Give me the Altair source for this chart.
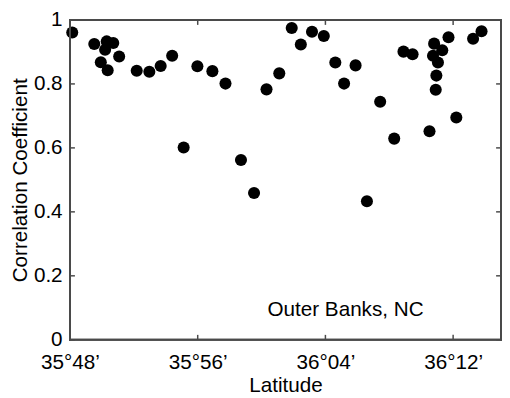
import altair as alt
import pandas as pd

# Latitude, in minutes past 35°48'
lat_min = [0.14, 1.52, 2.30, 2.71, 2.20, 1.93, 2.36, 3.08, 4.18, 4.97, 5.68, 6.40,
           7.98, 7.12, 8.92, 9.74, 10.71, 11.53, 12.31, 13.11, 13.89, 14.46, 15.16,
           15.90, 16.62, 17.17, 17.89, 18.60, 19.43, 20.31, 20.89, 21.46, 22.52,
           22.81, 23.32, 22.74, 23.05, 22.95, 22.91, 23.71, 24.20, 25.25, 25.78]
corr = [0.961, 0.925, 0.933, 0.928, 0.907, 0.868, 0.843, 0.886, 0.841, 0.838, 0.856, 0.888,
        0.855, 0.601, 0.840, 0.801, 0.562, 0.459, 0.783, 0.833, 0.975, 0.923, 0.963,
        0.950, 0.867, 0.801, 0.858, 0.433, 0.744, 0.629, 0.901, 0.893, 0.652,
        0.926, 0.905, 0.888, 0.867, 0.826, 0.782, 0.946, 0.695, 0.941, 0.965]

x_ticks = [0, 8, 16, 24]
x_tick_labels = ["35°48’", "35°56’", "36°04’", "36°12’"]
y_ticks = [0, 0.2, 0.4, 0.6, 0.8, 1.0]

annot_text = ["Outer Banks, NC"]
annot_x = [17.26]
annot_y = [0.093]

df = pd.DataFrame({"lat": lat_min, "r": corr})
ann = pd.DataFrame({"x": annot_x, "y": annot_y, "t": annot_text})
xt = pd.DataFrame({"v": x_ticks})
yt = pd.DataFrame({"v": y_ticks})
one = pd.DataFrame({"k": [0]})

W, H = 438, 325
TK = 5
FONT = "Liberation Sans"
LC = "#4a4a4a"

label_expr = ""
for v, l in zip(x_ticks, x_tick_labels):
    label_expr += f"datum.value == {v} ? '{l}' : "
label_expr += "''"

xscale = alt.Scale(domain=[0, 27], nice=False, zero=False)
yscale = alt.Scale(domain=[0, 1], nice=False)

txt_style = dict(labelFont=FONT, titleFont=FONT, labelFontSize=21, titleFontSize=21,
                 labelColor="black", titleColor="black", titleFontWeight="normal",
                 labelFlush=False)

pts = alt.Chart(df).mark_circle(size=150, color="black", opacity=1).encode(
    x=alt.X("lat:Q", scale=xscale,
            axis=alt.Axis(values=x_ticks, labelExpr=label_expr, ticks=False, tickSize=0,
                          domain=False, grid=False,
                          labelPadding=12, title="Latitude", titlePadding=3,
                          orient="bottom", **txt_style)),
    y=alt.Y("r:Q", scale=yscale,
            axis=alt.Axis(values=y_ticks, format="~g", ticks=False, tickSize=0,
                          domain=False, grid=False,
                          labelPadding=8, title="Correlation Coefficient", titlePadding=3,
                          orient="left", **txt_style)),
)

# inward tick marks
def xtick(yc):
    return alt.Chart(xt).mark_tick(color=LC, thickness=1.5, size=TK, orient="vertical",
                                   opacity=1).encode(
        x=alt.X("v:Q", scale=xscale, axis=None), y=alt.value(yc))

def ytick(xc):
    return alt.Chart(yt).mark_tick(color=LC, thickness=1.5, size=TK, orient="horizontal",
                                   opacity=1).encode(
        y=alt.Y("v:Q", scale=yscale, axis=None), x=alt.value(xc))

ticks = [xtick(H - TK / 2), xtick(TK / 2), ytick(TK / 2), ytick(W - TK / 2)]

# box frame as thin filled rects
def edge(x0, x1, y0, y1):
    return alt.Chart(one).mark_rect(color=LC, opacity=1).encode(
        x=alt.value(x0), x2=alt.value(x1), y=alt.value(y0), y2=alt.value(y1))

frame = [edge(-1, W + 1, -1, 1), edge(-1, W + 1, H - 1, H + 1),
         edge(-1, 1, -1, H + 1), edge(W - 1, W + 1, -1, H + 1)]

txt = alt.Chart(ann).mark_text(font=FONT, fontSize=21, color="black",
                               align="center", baseline="middle").encode(
    x=alt.X("x:Q", scale=xscale, axis=None),
    y=alt.Y("y:Q", scale=yscale, axis=None),
    text="t:N",
)

chart = alt.layer(pts, *ticks, *frame, txt).resolve_axis(
    x="independent", y="independent").properties(
    width=W, height=H,
    autosize=alt.AutoSizeParams(type="none"),
    padding={"left": 63, "top": 9, "right": 1, "bottom": 56},
    background="white",
).configure_view(stroke=LC, strokeWidth=2)

chart.save("out.html", embed_options={"renderer": "svg", "actions": False})
